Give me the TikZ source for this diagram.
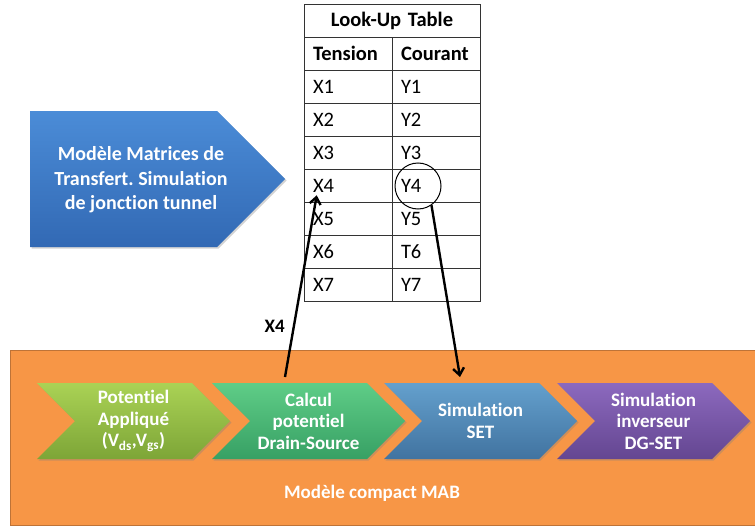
\documentclass[tikz,border=0pt]{standalone}
\usepackage{fontspec}
\setmainfont[Ligatures=NoCommon]{Carlito}
\frenchspacing
\usetikzlibrary{arrows.meta,positioning,shapes.symbols,shadows,calc}
\definecolor{mabfill}{RGB}{247,150,70}
\definecolor{mabline}{RGB}{190,115,55}
\definecolor{tunnelhi}{RGB}{75,140,215}
\definecolor{tunnello}{RGB}{50,105,180}
\definecolor{applhi}{RGB}{170,210,85}
\definecolor{applo}{RGB}{125,165,55}
\definecolor{calchi}{RGB}{95,205,135}
\definecolor{calclo}{RGB}{55,160,100}
\definecolor{sethi}{RGB}{100,160,205}
\definecolor{setlo}{RGB}{65,115,160}
\definecolor{invhi}{RGB}{140,105,190}
\definecolor{invlo}{RGB}{100,70,145}
\tikzset{
  panel/.style={draw=mabline,fill=mabfill,line width=.8pt,minimum width=747pt,
                minimum height=175pt,inner sep=0pt},
  whitebf/.style={text=white,font=\fontsize{19}{21.5}\selectfont\bfseries,align=center},
  stage/.style={signal,signal from=west,signal to=east,signal pointer angle=90,
                minimum width=193pt,minimum height=76pt,inner sep=0pt,whitebf,
                drop shadow={shadow xshift=1.5pt,shadow yshift=-1.5pt,opacity=.35}},
  tunnel/.style={signal,signal to=east,signal pointer angle=90,minimum width=255pt,
                 minimum height=136pt,inner sep=0pt,top color=tunnelhi,bottom color=tunnello,
                 drop shadow={shadow xshift=1.5pt,shadow yshift=-1.5pt,opacity=.35}},
  cell/.style={draw=black!80,line width=.6pt,minimum height=33pt,text width=70pt,
               inner xsep=9pt,inner ysep=0pt,align=left,font=\fontsize{20.5}{22}\selectfont},
  headcell/.style={cell,font=\fontsize{20.5}{22}\selectfont\bfseries},
  titlecell/.style={headcell,text width=158pt,align=center},
  hit/.style={circle,draw=black,line width=1pt,minimum size=46pt,inner sep=0pt},
  flow/.style={-{Straight Barb[length=7pt,width=11pt]},line width=2.4pt,draw=black},
}
\begin{document}
\begin{tikzpicture}[x=1pt,y=-1pt]
  \useasboundingbox (0,0) rectangle (755,527);
  % compact model
  \node[panel] (mab) at (383.5,437.5) {};
  \node[whitebf] (mabname) at (372,493) {Modèle compact MAB};
  \node[stage,top color=applhi,bottom color=applo] (appl) at (133.5,421)
    {Potentiel\\Appliqué\\(V\textsubscript{ds},V\textsubscript{gs})};
  \node[stage,top color=calchi,bottom color=calclo] (calc) at (308.5,421)
    {Calcul\\potentiel\\Drain-Source};
  \node[stage,top color=sethi,bottom color=setlo] (set) at (480.5,421)
    {Simulation\\SET};
  \node[stage,top color=invhi,bottom color=invlo] (inv) at (653.5,421)
    {Simulation\\inverseur\\DG-SET};
  % transfer matrix model
  \node[tunnel,anchor=west] (mtm) at (30,179) {};
  \node[whitebf,font=\fontsize{20}{24.5}\selectfont\bfseries] (mtmtext) at (141,180)
    {Modèle Matrices de\\Transfert. Simulation\\de jonction tunnel};
  % look-up table
  \node[titlecell] (lut) at (392,20.5) {Look-Up Table};
  \node[headcell] (tension) at (348,53.5) {Tension};
  \node[headcell] (courant) at (436,53.5) {Courant};
  \foreach \i/\v in {1/Y1,2/Y2,3/Y3,4/Y4,5/Y5,6/T6,7/Y7}{
    \node[cell] (x\i) at (348,53.5+33*\i) {X\i};
    \node[cell] (y\i) at (436,53.5+33*\i) {\v};
  }
  \node[hit] (pick) at (418,186) {};
  % lookup arrows
  \coordinate (feed) at (285,377);
  \coordinate (ret) at (460,377);
  \draw[flow] (feed) -- node[pos=.28,left=8pt,inner sep=0pt,
      font=\fontsize{19}{21}\selectfont\bfseries] (feedlbl) {X4}
    ([xshift=13pt,yshift=7pt]x4.south west);
  \draw[flow] (pick.-55) -- (ret);
\end{tikzpicture}
\end{document}
